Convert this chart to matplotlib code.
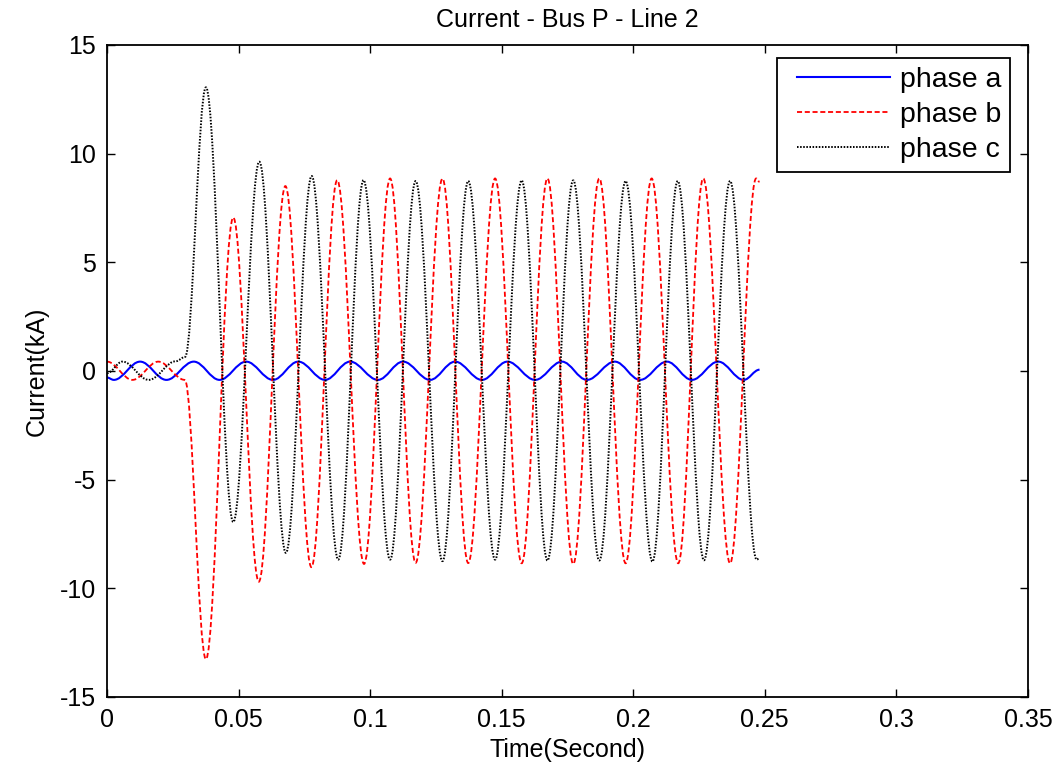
import matplotlib
matplotlib.use("Agg")
import matplotlib.pyplot as plt
from matplotlib.path import Path
from matplotlib.patches import PathPatch
from matplotlib.lines import Line2D
from matplotlib.legend_handler import HandlerLine2D

# ---- data (extrema of each waveform: time [s], current [kA]) ----
t_a = [0.0, 0.0026, 0.0126, 0.0226, 0.0330, 0.0428, 0.0529, 0.0631, 0.0727, 0.0829,
       0.0924, 0.1030, 0.1125, 0.1228, 0.1323, 0.1425, 0.1522, 0.1627, 0.1729, 0.1824,
       0.1930, 0.2026, 0.2128, 0.2223, 0.2323, 0.2420, 0.2480]
i_a = [-0.30, -0.41, 0.43, -0.41, 0.43, -0.41, 0.43, -0.41, 0.43, -0.41,
       0.43, -0.41, 0.43, -0.41, 0.43, -0.41, 0.43, -0.41, 0.43, -0.41,
       0.43, -0.41, 0.43, -0.41, 0.43, -0.41, 0.06]

t_b = [0.0, 0.0097, 0.0195, 0.0296, 0.0376, 0.0480, 0.0577, 0.0678, 0.0777, 0.0875,
       0.0977, 0.1076, 0.1173, 0.1275, 0.1373, 0.1475, 0.1576, 0.1674, 0.1772, 0.1871,
       0.1971, 0.2070, 0.2171, 0.2266, 0.2368, 0.2467, 0.2480]
i_b = [0.43, -0.41, 0.43, -0.41, -13.26, 7.06, -9.70, 8.51, -9.03, 8.78,
       -8.88, 8.86, -8.83, 8.85, -8.84, 8.86, -8.85, 8.86, -8.88, 8.86,
       -8.85, 8.86, -8.85, 8.86, -8.85, 8.86, 8.70]

t_c = [0.0, 0.0059, 0.0159, 0.0262, 0.0297, 0.0376, 0.0480, 0.0579, 0.0680, 0.0778,
       0.0879, 0.0975, 0.1076, 0.1173, 0.1275, 0.1373, 0.1475, 0.1576, 0.1674, 0.1772,
       0.1871, 0.1971, 0.2073, 0.2169, 0.2269, 0.2368, 0.2469, 0.2480]
i_c = [-0.10, 0.43, -0.41, 0.45, 0.65, 13.05, -6.95, 9.63, -8.37, 8.97,
       -8.68, 8.78, -8.68, 8.74, -8.75, 8.74, -8.68, 8.77, -8.72, 8.77,
       -8.72, 8.74, -8.77, 8.74, -8.71, 8.74, -8.68, -8.60]

series_labels = ["phase a", "phase b", "phase c"]
x_ticks = [0, 0.05, 0.1, 0.15, 0.2, 0.25, 0.3, 0.35]
x_tick_labels = ["0", "0.05", "0.1", "0.15", "0.2", "0.25", "0.3", "0.35"]
y_ticks = [-15, -10, -5, 0, 5, 10, 15]
y_tick_labels = ["-15", "-10", "-5", "0", "5", "10", "15"]

# ---- style ----
plt.rcParams["font.family"] = ["Liberation Sans", "DejaVu Sans"]
FS = 18
LFS = 20.5

fig = plt.figure(figsize=(10.57, 7.74), dpi=100)
ax = fig.add_axes([0.1012, 0.0995, 0.8713, 0.8424])


def wave_path(ts, vs):
    """Smooth path through the extrema: cubic Bezier with flat tangents at each extremum."""
    k = 0.3634
    verts = [(ts[0], vs[0])]
    codes = [Path.MOVETO]
    for i in range(1, len(ts)):
        dt = ts[i] - ts[i - 1]
        verts += [(ts[i - 1] + k * dt, vs[i - 1]), (ts[i] - k * dt, vs[i]), (ts[i], vs[i])]
        codes += [Path.CURVE4] * 3
    return Path(verts, codes)


styles = [
    dict(color=(0, 0, 1), ls="-", lw=1.5),
    dict(color=(1, 0, 0), ls=(0, (2.8, 1.5)), lw=1.3),
    dict(color=(0, 0, 0), ls=(0, (0.8, 0.8)), lw=1.4),
]
data = [(t_a, i_a), (t_b, i_b), (t_c, i_c)]
handles = []
for (ts, vs), st, lab in zip(data, styles, series_labels):
    patch = PathPatch(wave_path(ts, vs), fill=False, edgecolor=st["color"],
                      linestyle=st["ls"], linewidth=st["lw"], transform=ax.transData,
                      capstyle="butt", joinstyle="round")
    ax.add_patch(patch)
    handles.append(Line2D([], [], color=st["color"], linestyle=st["ls"], linewidth=st["lw"]))

ax.set_xlim(0, 0.35)
ax.set_ylim(-15, 15)
ax.set_xticks(x_ticks)
ax.set_xticklabels(x_tick_labels)
ax.set_yticks(y_ticks)
ax.set_yticklabels(y_tick_labels)
ax.tick_params(direction="in", length=6, width=1.0, labelsize=FS, pad=8,
               top=True, right=True, color="black")
for sp in ax.spines.values():
    sp.set_linewidth(1.3)
    sp.set_color("black")

ax.set_title("Current - Bus P - Line 2", fontsize=FS, pad=13)
ax.set_xlabel("Time(Second)", fontsize=FS, labelpad=4)
ax.set_ylabel("Current(kA)", fontsize=FS, labelpad=8)

leg = ax.legend(handles, series_labels, loc="upper right", bbox_to_anchor=(0.98, 0.98),
                borderaxespad=0, fontsize=LFS, frameon=True, fancybox=False,
                handlelength=3.65, handletextpad=0.35, labelspacing=0.33, borderpad=0.3,
                handler_map={Line2D: HandlerLine2D(xpad=0.4)})
leg.get_frame().set_edgecolor("black")
leg.get_frame().set_linewidth(1.3)
leg.get_frame().set_alpha(1)

fig.savefig("out.png", dpi=100)
